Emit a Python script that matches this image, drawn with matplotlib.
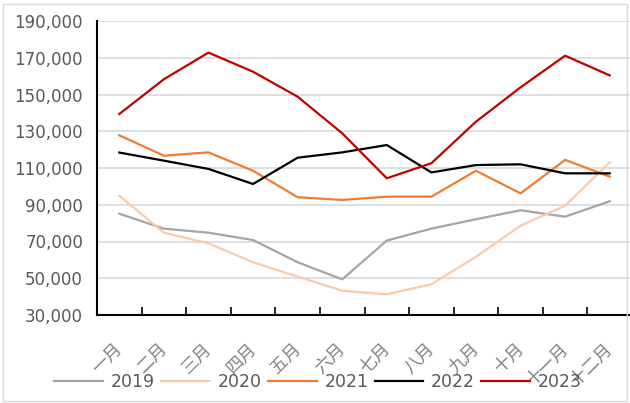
import matplotlib.pyplot as plt
from matplotlib.patches import Rectangle
from matplotlib.transforms import ScaledTranslation

months = ["一月", "二月", "三月", "四月", "五月", "六月", "七月", "八月", "九月", "十月", "十一月", "十二月"]
y2019 = [85100, 77000, 74800, 70800, 58700, 49400, 70500, 77000, 82100, 87000, 83500, 91900]
y2020 = [94900, 74800, 69000, 58700, 50900, 43200, 41300, 46700, 61700, 78600, 89500, 113100]
y2021 = [127800, 116700, 118500, 108500, 94100, 92600, 94400, 94400, 108500, 96200, 114400, 105300]
y2022 = [118400, 114000, 109500, 101300, 115600, 118500, 122500, 107600, 111600, 112000, 107100, 107100]
y2023 = [139400, 158300, 172800, 162400, 148800, 128900, 104400, 112600, 135200, 153900, 171100, 160400]

series = [("2019", y2019, "#A5A5A5"), ("2020", y2020, "#F8CBAD"), ("2021", y2021, "#ED7D31"),
          ("2022", y2022, "#000000"), ("2023", y2023, "#C00000")]

plt.rcParams['font.family'] = ['Noto Sans CJK SC', 'DejaVu Sans']

fig = plt.figure(figsize=(6.3, 4.03), dpi=100)
ax = fig.add_axes([97 / 630, 1 - 315 / 403, 535 / 630, 294 / 403])

x = list(range(len(months)))
for name, vals, col in series:
    ax.plot(x, vals, color=col, lw=1.6, label=name)

ax.set_xlim(-0.5, 11.5)
ax.set_ylim(30000, 190000)
yt = list(range(30000, 190001, 20000))
ax.set_yticks(yt)
ax.set_yticklabels([f"{v:,}" for v in yt], family="DejaVu Sans", fontsize=12, color="#595959")
ax.yaxis.grid(True, color="#D9D9D9", lw=1.2)
ax.set_axisbelow(True)
ax.tick_params(axis="y", length=0, pad=10)

# tick marks between categories, labels at the centres
ax.set_xticks([i + 0.5 for i in range(11)])
ax.set_xticklabels([])
ax.tick_params(axis="x", which="major", direction="in", length=6, width=1.2, color="black")
ax.set_xticks(x, minor=True)
ax.set_xticklabels(months, minor=True, rotation=45, ha="right", va="top",
                   rotation_mode="anchor", fontsize=12.5, color="#808080", fontweight="light")
ax.tick_params(axis="x", which="minor", length=0, pad=18)
shift = ScaledTranslation(-6 / 100, 0, fig.dpi_scale_trans)
for lab in ax.get_xticklabels(minor=True):
    lab.set_transform(lab.get_transform() + shift)

for s in ["top", "right"]:
    ax.spines[s].set_visible(False)
for s in ["left", "bottom"]:
    ax.spines[s].set_color("black")
    ax.spines[s].set_linewidth(1.5)

leg = fig.legend(loc="center", bbox_to_anchor=(0.505, 0.052), ncol=5, frameon=False,
                 handlelength=2.8, columnspacing=0.35, handletextpad=0.46,
                 prop={"family": "DejaVu Sans", "size": 12.5})
for t in leg.get_texts():
    t.set_color("#595959")

fig.patches.append(Rectangle((3 / 630, 2 / 403), 624 / 630, 397 / 403, transform=fig.transFigure,
                             fill=False, edgecolor="#D9D9D9", lw=1))

fig.savefig("out.png", dpi=100)
